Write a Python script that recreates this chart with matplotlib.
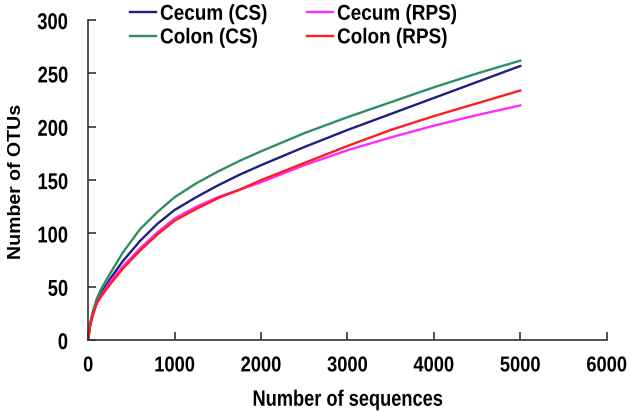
import numpy as np
import matplotlib
matplotlib.use("Agg")
import matplotlib.pyplot as plt
from matplotlib.patheffects import AbstractPathEffect
from matplotlib.transforms import Affine2D

plt.rcParams['font.family'] = ['Liberation Sans', 'DejaVu Sans']
plt.rcParams['font.weight'] = 'bold'

# rarefaction data
seqs = [0, 20, 50, 100, 150, 250, 400, 600, 800, 1000, 1250, 1500, 1750, 2000, 2500, 3000, 3500, 4000, 4500, 5000]
cecum_cs = [0, 13, 23, 36, 44, 57, 74, 93, 109, 122, 134, 145, 155, 164, 181, 197, 212, 227, 242, 257]
colon_cs = [0, 15, 26, 39, 48, 62, 82, 104, 120, 134, 147, 158, 168, 177, 194, 209, 223, 237, 250, 262]
cecum_rps = [0, 13, 23, 35, 42, 54, 69, 86, 101, 114, 125, 134, 141, 148, 164, 178, 190, 201, 211, 220]
colon_rps = [0, 13, 23, 35, 41, 52, 67, 84, 99, 112, 123, 133, 141, 150, 166, 182, 197, 210, 222, 234]


class Squeeze(AbstractPathEffect):
    """narrow the text horizontally, like the condensed labels of the original"""
    def __init__(self, sx=0.8, anchor='center'):
        super().__init__()
        self.sx = sx
        self.anchor = anchor

    def draw_path(self, renderer, gc, tpath, affine, rgbFace=None):
        ext = tpath.get_extents(affine)
        if self.anchor == 'left':
            cx = ext.x0
        elif self.anchor == 'right':
            cx = ext.x1
        else:
            cx = (ext.x0 + ext.x1) / 2
        tr = affine + Affine2D().translate(-cx, 0).scale(self.sx, 1).translate(cx, 0)
        renderer.draw_path(gc, tpath, tr, rgbFace)


fig = plt.figure(figsize=(6.3, 4.14), dpi=100)
ax = fig.add_axes([0.14, 0.176, 0.823, 0.773])

l1, = ax.plot(seqs, cecum_cs, color='#1f1f7f', lw=1.7, label='Cecum (CS)')
l2, = ax.plot(seqs, cecum_rps, color='#ff2aff', lw=1.7, label='Cecum (RPS)')
l3, = ax.plot(seqs, colon_cs, color='#2f8f62', lw=1.7, label='Colon (CS)')
l4, = ax.plot(seqs, colon_rps, color='#ff1c1c', lw=1.7, label='Colon (RPS)')

ax.set_xlim(0, 6000)
ax.set_ylim(0, 300)
ax.set_xticks(np.arange(0, 6001, 1000))
ax.set_yticks(np.arange(0, 301, 50))
ax.spines['top'].set_visible(False)
ax.spines['right'].set_visible(False)
for s in ['left', 'bottom']:
    ax.spines[s].set_linewidth(1.2)
    ax.spines[s].set_color('#333333')
ax.tick_params(axis='x', direction='in', length=6, width=1.2, color='#333333', pad=11, labelsize=15.5)
ax.tick_params(axis='y', direction='in', length=6, width=1.2, color='#333333', pad=14.4, labelsize=16.5)
for t in ax.get_xticklabels():
    t.set_path_effects([Squeeze(0.85)])
for t in ax.get_yticklabels():
    t.set_path_effects([Squeeze(0.8, 'right')])

ax.set_xlabel('Number of sequences', fontsize=16, fontweight='bold',
              path_effects=[Squeeze(0.82)])
ax.xaxis.set_label_coords(0.5, -0.155)
ax.set_ylabel('Number of OTUs', fontsize=14, fontweight='bold')
ax.yaxis.set_label_coords(-0.122, 0.5)

leg = fig.legend(handles=[l1, l3, l2, l4], loc='upper left', bbox_to_anchor=(0.206, 0.9885),
                 ncol=2, frameon=False, fontsize=15.5, handlelength=1.21, handletextpad=0.19,
                 columnspacing=1.16, labelspacing=0.12, borderpad=0, borderaxespad=0)
for t in leg.get_texts():
    t.set_path_effects([Squeeze(0.88, 'left')])

fig.savefig('out.png', dpi=100)
